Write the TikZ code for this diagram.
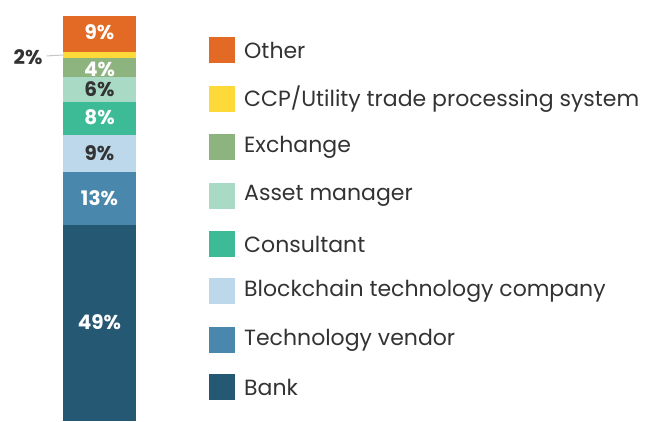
\documentclass[tikz,border=0pt]{standalone}
\usepackage{fontspec}
\setmainfont{Poppins}
\usetikzlibrary{positioning}

\definecolor{OtherOrange}{HTML}{E36A24}
\definecolor{CcpYellow}{HTML}{FDD93A}
\definecolor{ExchangeGreen}{HTML}{8DB47F}
\definecolor{AssetMint}{HTML}{A9DAC6}
\definecolor{ConsultTeal}{HTML}{3DBB96}
\definecolor{ChainBlue}{HTML}{BCD8EA}
\definecolor{VendorBlue}{HTML}{4A87AD}
\definecolor{BankBlue}{HTML}{245873}
\definecolor{TextGray}{HTML}{333333}

\tikzset{
    segment/.style = {anchor=north west, minimum width=73pt, inner sep=0pt, outer sep=0pt},
    pct/.style = {font=\fontsize{20}{20}\selectfont\bfseries, inner sep=0pt},
    legbox/.style = {minimum size=26pt, inner sep=0pt, outer sep=0pt},
    legtext/.style = {font=\fontsize{22}{22}\selectfont, text=TextGray, inner sep=0pt, anchor=west},
}

\begin{document}
\begin{tikzpicture}[x=1pt, y=-1pt]

    \useasboundingbox (0,0) rectangle (646,421);

    % Barra apilada
    \foreach \name/\top/\high/\col in {
        other/16/36/OtherOrange, ccp/52/6/CcpYellow, exchange/58/19/ExchangeGreen,
        asset/77/25/AssetMint, consult/102/33/ConsultTeal, chain/135/37/ChainBlue,
        vendor/172/53/VendorBlue, bank/225/196/BankBlue}
        \node[segment, fill=\col, minimum height=\high pt] (seg-\name) at (63,\top) {};

    % Porcentajes dentro de la barra
    \foreach \name/\y/\tc/\txt in {
        other/32/white/9, exchange/69/white/4, asset/89/TextGray/6, consult/117/white/8,
        chain/153/TextGray/9, vendor/198/white/13, bank/322/white/49}
        \node[pct, text=\tc] (lbl-\name) at (99.5,\y) {\txt\%};

    % Etiqueta de fuera
    \node[pct, text=TextGray, inner sep=4pt] (lbl-ccp) at (28,57) {2\%};
    \coordinate (ccp-end) at (seg-ccp.west);
    \draw[gray!45, line width=1pt] (lbl-ccp) -- (ccp-end);

    % Leyenda
    \foreach \name/\col/\y/\txt in {
        other/OtherOrange/50/Other, ccp/CcpYellow/99/{CCP/Utility trade processing system},
        exchange/ExchangeGreen/147/Exchange, asset/AssetMint/196/Asset manager,
        consult/ConsultTeal/244/Consultant, chain/ChainBlue/291/Blockchain technology company,
        vendor/VendorBlue/340/Technology vendor, bank/BankBlue/387/Bank}
    {
        \node[legbox, fill=\col] (box-\name) at (222,\y) {};
        \node[legtext, right=9pt of box-\name] (txt-\name) {\txt};
    }
\end{tikzpicture}
\end{document}
